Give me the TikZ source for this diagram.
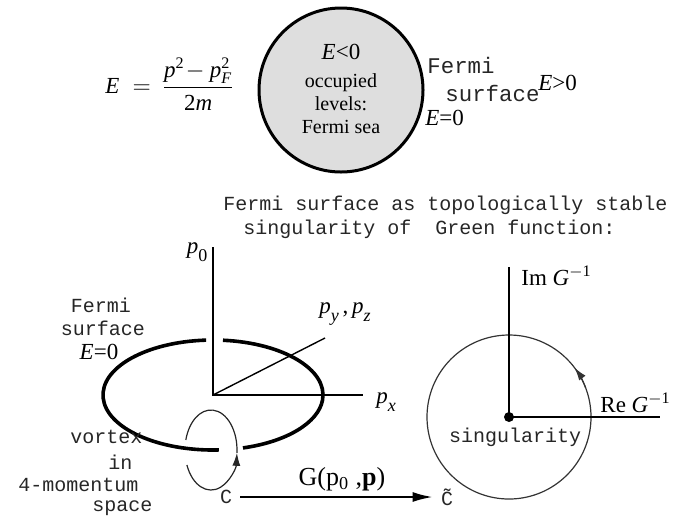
\documentclass[tikz,border=0pt]{standalone}
\usepackage{amsmath}
\usepackage{fontspec}
\setmainfont{Liberation Serif}
\setmonofont{Liberation Mono}
\usetikzlibrary{arrows.meta}
\newcommand\lowsub[1]{\raisebox{-0.75ex}{\small #1}}
\tikzset{
  tt/.style={font=\ttfamily\fontsize{10}{12.5}\selectfont, text=black!85, inner sep=0pt},
  ttbig/.style={font=\ttfamily\fontsize{11.2}{13}\selectfont, text=black!85, inner sep=0pt},
  rm/.style={font=\fontsize{11.5}{13}\selectfont, inner sep=0pt},
  axis/.style={line width=1pt},
  fermi/.style={line width=1.8pt},
  thin/.style={line width=0.6pt, black!85},
  tip/.style={-{Latex[length=6.5pt,width=4pt]}},
}
\begin{document}
\begin{tikzpicture}[x=0.5pt,y=-0.5pt]
\useasboundingbox (0,0) rectangle (678,521);
% Fermi sea
\node[rm, font=\fontsize{11.5}{13}\selectfont] (disp) at (170,84)
  {$\textit{E}\;=\,\dfrac{\textit{p}^{\textrm{2}}\!-\textit{p}_{\textit{F}}^{\textrm{2}}}{\textrm{2}\textit{m}}$};
\filldraw[fill=black!13, line width=1.5pt] (341,90) circle (82);
\node[rm] (neg) at (341,52) {\textit{E}<0};
\node[rm, font=\fontsize{10}{11.5}\selectfont, align=center] (occ) at (341,104)
  {occupied\\levels:\\Fermi sea};
\node[ttbig, anchor=west] (fs1) at (427,65) {Fermi};
\node[ttbig, anchor=west] (fs2) at (445,93) {surface};
\node[rm, anchor=west] (pos) at (538,83) {\textit{E}>0};
\node[rm, anchor=west] (zero) at (425,118) {\textit{E}=0};
% title
\node[tt, anchor=west] (title1) at (223,205) {Fermi surface as topologically stable};
\node[tt, anchor=west] (title2) at (243,229) {singularity of\ \ Green function:};
% momentum space
\coordinate (O) at (213,395);
\coordinate (p0end) at (213,247);
\coordinate (pxend) at (363,395);
\coordinate (pyend) at (325,338);
\draw[axis] (p0end) -- (O) -- (pxend);
\draw[line width=0.7pt] (O) -- (pyend);
\node[rm] (p0) at (197,252) {\textit{p}\lowsub{0}};
\node[rm] (pyz) at (345,314) {\textit{p}\lowsub{\textit{y}}\,,\,\textit{p}\lowsub{\textit{z}}};
\node[rm] (px) at (386,402) {\textit{p}\lowsub{\textit{x}}};
\draw[fermi] (O) ++(86.9:110 and 55) arc[start angle=86.9, end angle=266.4, x radius=110, y radius=55];
\draw[fermi] (O) ++(275.2:110 and 55) arc[start angle=275.2, end angle=434.2, x radius=110, y radius=55];
% vortex loop
\coordinate (L) at (211,450);
\draw[thin, tip] (L) ++(158:26 and 40) arc[start angle=158, end angle=4, x radius=26, y radius=40];
\draw[thin] (L) ++(4:26 and 40) arc[start angle=4, end angle=-165.5, x radius=26, y radius=40];
\node[tt] (fs3) at (101,305) {Fermi};
\node[tt] (fs4) at (103,328) {surface};
\node[rm] (fs5) at (99,352) {\textit{E}=0};
\node[tt, anchor=west] (vx1) at (70,437) {vortex};
\node[tt, anchor=west] (vx2) at (108,462) {in};
\node[tt, anchor=west] (vx3) at (18,485) {4-momentum};
\node[tt, anchor=west] (vx4) at (92,508) {space};
% mapping
\node[tt, inner sep=4pt] (c) at (226,497) {C};
\node[tt, inner sep=4pt] (ct) at (447,497) {\~{C}};
\draw[line width=1pt, -{Latex[length=10pt,width=5pt]}] (c) -- (ct);
\node[rm, font=\fontsize{13}{15}\selectfont] (gmap) at (342,479) {G(p\textsubscript{0} ,\textbf{p})};
% Green function plane
\node[circle, fill, inner sep=0pt, minimum size=5pt] (sing) at (509,417) {};
\draw[thin, black!80] (sing.center) circle (82);
\draw[thin, black!80, tip] (sing.center) ++(-21:82) arc[start angle=-21, end angle=-37, radius=82];
\draw[axis] (sing.center) -- (509,267);
\draw[axis] (sing.center) -- (660,417);
\node[rm, anchor=west] (im) at (521,276) {Im \textit{G}\textsuperscript{$-$1}};
\node[rm, anchor=west] (re) at (600,403) {Re \textit{G}\textsuperscript{$-$1}};
\node[tt] (stext) at (515,437) {singularity};
\end{tikzpicture}
\end{document}
